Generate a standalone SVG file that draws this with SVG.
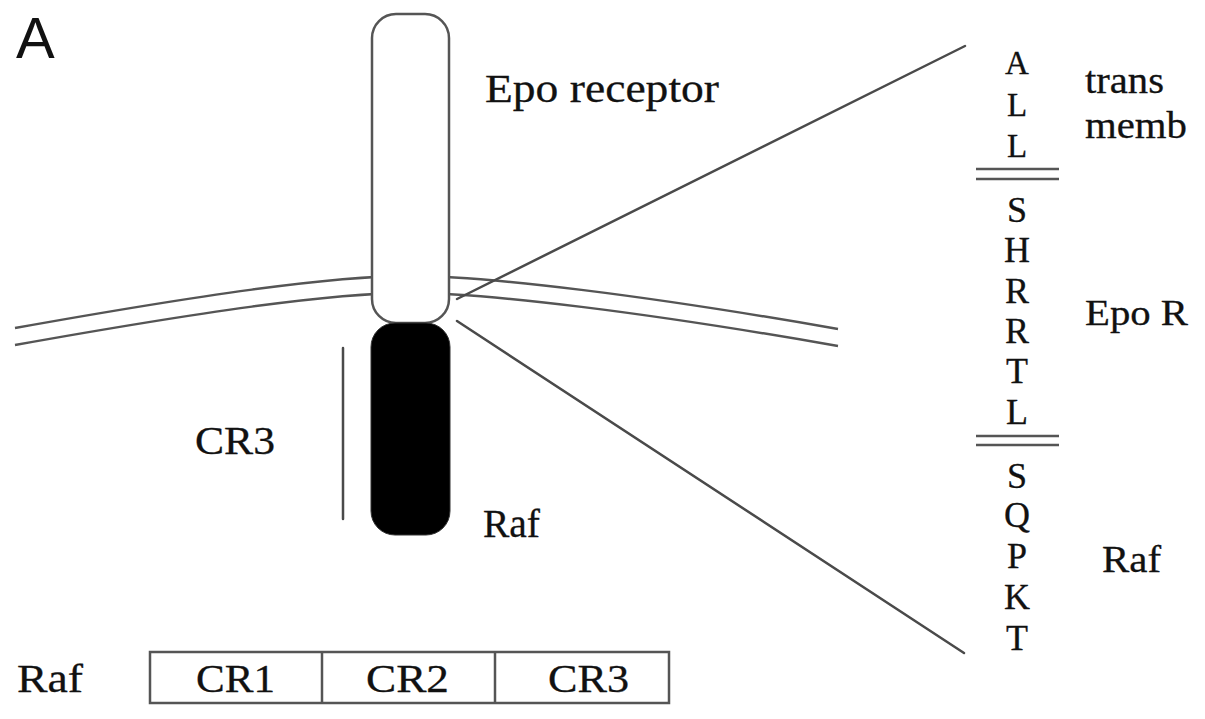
<svg xmlns="http://www.w3.org/2000/svg" width="1205" height="719" viewBox="0 0 1205 719">
<style>
.t{font-family:"Liberation Serif","Times New Roman",serif;fill:#111;stroke:#111;stroke-width:0.3}
.s{font-family:"Liberation Sans",Arial,sans-serif;fill:#111}
.ln{stroke:#4a4a4a;stroke-width:2.5;fill:none;stroke-linecap:round}
.mem{stroke:#555;stroke-width:2.5;fill:none}
.ctr{text-anchor:middle}
</style>
<rect width="1205" height="719" fill="#fff"/>
<text id="panel-label" class="s" x="16" y="58" font-size="58">A</text>
<g id="membrane">
<path class="mem" d="M15,328 C200,295 330,276 410,276 S650,296 838,329"/>
<path class="mem" d="M15,345 C200,312 330,293 410,293 S650,313 838,346"/>
</g>
<g id="connectors">
<line class="ln" x1="457" y1="299" x2="965" y2="46"/>
<line class="ln" x1="457" y1="321" x2="964" y2="653"/>
<line class="ln" x1="343" y1="348" x2="343" y2="519"/>
</g>
<g id="epo-receptor">
<rect x="372" y="14" width="77" height="309" rx="24" fill="#fff" stroke="#555" stroke-width="2.5"/>
<text class="t" x="485" y="102" font-size="40" textLength="234" lengthAdjust="spacingAndGlyphs">Epo receptor</text>
</g>
<g id="raf-domain">
<rect x="371" y="323" width="79" height="212" rx="24" fill="#000" stroke="#333" stroke-width="1"/>
<text class="t" x="483" y="537" font-size="40" textLength="57" lengthAdjust="spacingAndGlyphs">Raf</text>
<text class="t" x="195" y="454" font-size="40" textLength="80" lengthAdjust="spacingAndGlyphs">CR3</text>
</g>
<g id="raf-bar">
<text class="t" x="17" y="692" font-size="40" textLength="66" lengthAdjust="spacingAndGlyphs">Raf</text>
<rect x="150" y="652" width="519" height="51" fill="#fff" stroke="#555" stroke-width="2.5"/>
<line class="mem" x1="322" y1="652" x2="322" y2="703"/>
<line class="mem" x1="495" y1="652" x2="495" y2="703"/>
<text class="t" x="196" y="692" font-size="40" textLength="79" lengthAdjust="spacingAndGlyphs">CR1</text>
<text class="t" x="366" y="692" font-size="40" textLength="83" lengthAdjust="spacingAndGlyphs">CR2</text>
<text class="t" x="548" y="692" font-size="40" textLength="81" lengthAdjust="spacingAndGlyphs">CR3</text>
</g>
<g id="sequence">
<text class="t ctr" x="1017" y="74" font-size="33">A</text>
<text class="t ctr" x="1017" y="116" font-size="33">L</text>
<text class="t ctr" x="1017" y="157" font-size="33">L</text>
<line class="mem" x1="976" y1="169" x2="1059" y2="169"/>
<line class="mem" x1="976" y1="179" x2="1059" y2="179"/>
<text class="t ctr" x="1017" y="222" font-size="36">S</text>
<text class="t ctr" x="1017" y="262" font-size="36">H</text>
<text class="t ctr" x="1017" y="303" font-size="36">R</text>
<text class="t ctr" x="1017" y="343" font-size="36">R</text>
<text class="t ctr" x="1017" y="383" font-size="36">T</text>
<text class="t ctr" x="1017" y="424" font-size="36">L</text>
<line class="mem" x1="976" y1="436" x2="1059" y2="436"/>
<line class="mem" x1="976" y1="445" x2="1059" y2="445"/>
<text class="t ctr" x="1017" y="488" font-size="36">S</text>
<text class="t ctr" x="1017" y="527" font-size="36">Q</text>
<text class="t ctr" x="1017" y="568" font-size="36">P</text>
<text class="t ctr" x="1017" y="609" font-size="36">K</text>
<text class="t ctr" x="1017" y="650" font-size="36">T</text>
</g>
<g id="region-labels">
<text class="t" x="1085" y="93" font-size="38" textLength="79" lengthAdjust="spacingAndGlyphs">trans</text>
<text class="t" x="1085" y="138" font-size="38" textLength="102" lengthAdjust="spacingAndGlyphs">memb</text>
<text class="t" x="1085" y="325" font-size="36" textLength="103" lengthAdjust="spacingAndGlyphs">Epo R</text>
<text class="t" x="1102" y="572" font-size="38" textLength="59" lengthAdjust="spacingAndGlyphs">Raf</text>
</g>
</svg>
